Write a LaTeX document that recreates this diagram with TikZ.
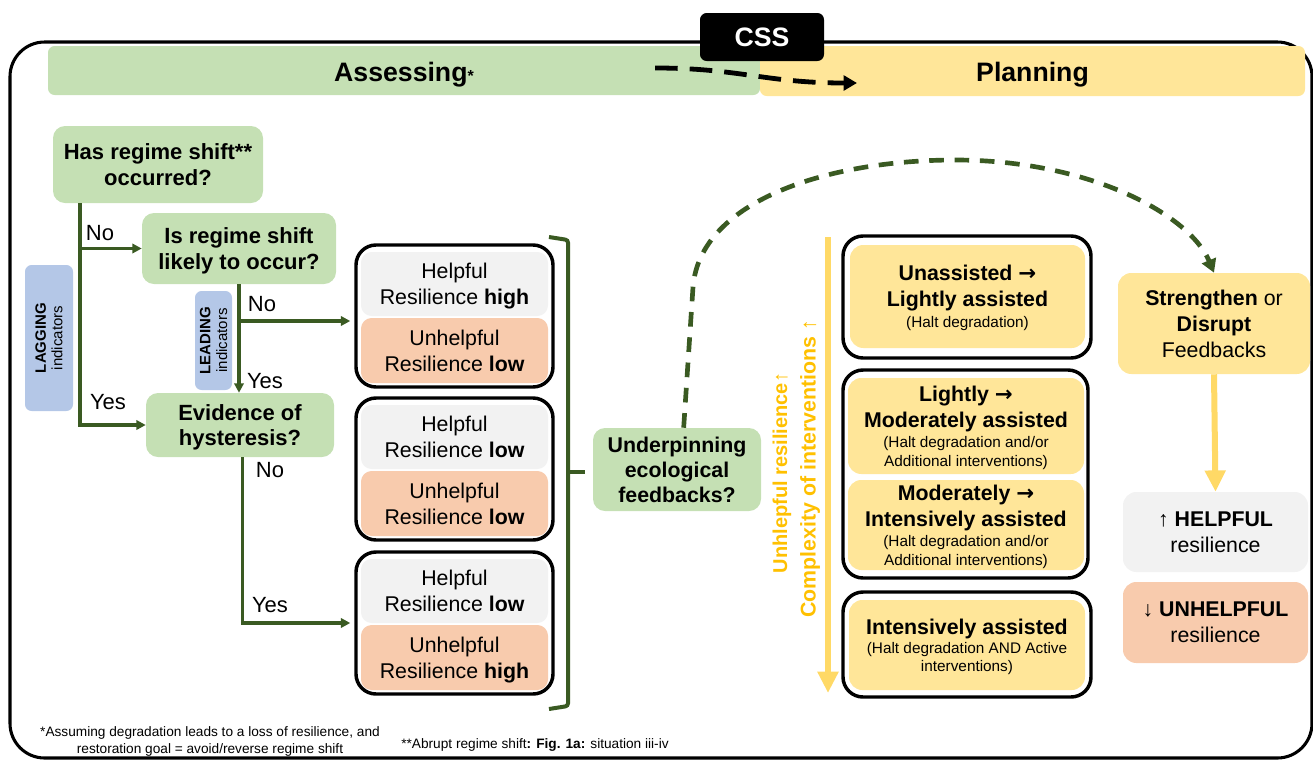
\documentclass[tikz,border=0pt]{standalone}
\usepackage{fontspec}
\setmainfont{Liberation Sans}
\newfontfamily\arrowfont{DejaVu Sans}
\usepackage{xcolor}
\usepackage{tikz}
\usetikzlibrary{arrows.meta,positioning}

\definecolor{boxgreen}{HTML}{C5E0B4}
\definecolor{boxyellow}{HTML}{FFE699}
\definecolor{boxgray}{HTML}{F2F2F2}
\definecolor{boxorange}{HTML}{F8CBAD}
\definecolor{boxblue}{HTML}{B4C7E7}
\definecolor{linegreen}{HTML}{3A5A22}
\definecolor{arrowyellow}{HTML}{FFD966}
\definecolor{textyellow}{HTML}{FFC000}

\newcommand{\fs}[2]{\fontsize{#1}{#2}\selectfont}
\newcommand{\nextstep}{{\arrowfont\bfseries →}}
\newcommand{\smalltext}[1]{{\fs{11.5}{14}#1}}

\begin{document}
\begin{tikzpicture}[x=0.75pt, y=-0.75pt,
    question/.style={fill=boxgreen, rounded corners=9pt, align=center, inner sep=0pt, text depth=0pt, font=\bfseries\fs{16.5}{19}},
    indicator/.style={fill=boxblue, rounded corners=5pt, align=center, inner sep=0pt, rotate=90, font=\fs{11.25}{12.5}},
    branchlabel/.style={inner sep=0pt, font=\fs{16.5}{19}},
    flowline/.style={draw=linegreen, line width=2.5pt},
    flowarrow/.style={flowline, -{Triangle[length=7pt,width=7pt]}},
    outerbox/.style={draw=black, fill=white, line width=2.6pt, rounded corners=15pt, inner sep=0pt},
    resbox/.style={rounded corners=8pt, align=center, inner sep=0pt, text depth=0pt, font=\fs{16}{19.5}, minimum width=140.25pt},
    planbox/.style={fill=boxyellow, rounded corners=10pt, align=center, inner sep=0pt, text depth=0pt, minimum width=177pt, font=\fs{16}{19.5}},
    yellowarrow/.style={draw=arrowyellow, line width=4.5pt, -{Triangle[length=16pt,width=15pt]}},
    sidebox/.style={rounded corners=10pt, align=center, inner sep=0pt, text depth=0pt, minimum width=138.75pt, font=\fs{16}{19.5}},
    phasebar/.style={rounded corners=5pt, inner sep=0pt, text height=16.5pt, text depth=0.5pt, font=\bfseries\fs{20}{24}},
    footnote/.style={align=center, inner sep=0pt, font=\fs{10.25}{12.75}}
]
\useasboundingbox (0,0) rectangle (1313,761);
\clip (0,0) rectangle (1313,761);

% Frame and phase bars
\draw[line width=2.3pt, rounded corners=26pt] (10,42) rectangle (1312,758);
\node[phasebar, fill=boxgreen, minimum width=534pt, minimum height=36.75pt] (assess) at (404,70.5) {Assessing{\fs{12}{12}*}};
\node[phasebar, fill=boxyellow, minimum width=408.75pt, minimum height=37.5pt] (plan) at (1032.5,71) {Planning};
\node[fill=black, text=white, rounded corners=5pt, minimum width=93pt, minimum height=36pt, inner sep=0pt, font=\bfseries\fs{20}{24}] (css) at (762,37) {CSS};
\coordinate (cssfrom) at (655,68);
\coordinate (cssto) at (857,83);
\draw[line width=3.6pt, dash pattern=on 17pt off 9pt, -{Triangle[length=10pt,width=11pt]}] (cssfrom) .. controls (740,68) and (765,83) .. (cssto);

% Assessing questions
\node[question, minimum width=157.5pt, minimum height=57.75pt] (Q1) at (158,164.5) {Has regime shift**\\occurred?};
\node[question, minimum width=145.5pt, minimum height=53.25pt] (Q2) at (239,248.5) {Is regime shift\\likely to occur?};
\node[question, minimum width=141pt, minimum height=48pt] (Q3) at (240,425) {Evidence of\\hysteresis?};
\node[indicator, minimum width=109.5pt, minimum height=36pt] (lag) at (49,338) {\textbf{LAGGING}\\indicators};
\node[indicator, minimum width=74.25pt, minimum height=27.75pt] (lead) at (213.5,340.5) {\textbf{LEADING}\\indicators};

% Decision lines
\coordinate (lagx) at (80,0);
\draw[flowarrow] (Q1.south -| lagx) |- (Q3.west);
\draw[flowarrow] (lagx |- Q2.west) -- (Q2.west);
\node[branchlabel] (no1) at (100,233) {No};
\node[branchlabel] (yes1) at (108,402) {Yes};

% Result boxes
\foreach \n/\top/\hval/\uval in {1/245/high/low, 2/398/low/low, 3/552/low/high} {
    \node[outerbox, minimum width=147.75pt, minimum height=106.5pt] (R\n) at (454.5,\top+71) {};
    \node[resbox, fill=boxgray, minimum height=48pt] (R\n-h) at (454.5,\top+39) {Helpful\\Resilience \textbf{\hval}};
    \node[resbox, fill=boxorange, minimum height=48.75pt] (R\n-u) at (454.5,\top+105.5) {Unhelpful\\Resilience \textbf{\uval}};
}

\coordinate (R1in) at ([yshift=-3.75pt]R1.west);
\draw[flowarrow] (Q2.south) -- (Q2.south |- Q3.north);
\draw[flowarrow, shorten >=3pt] (Q2.south |- R1in) -- (R1in);
\node[branchlabel] (no2) at (262,304) {No};
\node[branchlabel] (yes2) at (265,381) {Yes};
\draw[flowarrow, shorten >=3pt] ([xshift=2pt]Q3.south) |- (R3.west);
\node[branchlabel] (no3) at (270,470) {No};
\node[branchlabel] (yes3) at (270,605) {Yes};

% Bracket to feedbacks
\node[question, minimum width=126pt, minimum height=62.25pt, font=\bfseries\fs{16}{18.75}] (FB) at (677,469.5) {Underpinning\\ecological\\feedbacks?};
\draw[flowline, line width=3pt, rounded corners=2pt] (549,237) -- (568,240) -- (568,706) -- (549,709);
\coordinate (bmid) at (568,472);
\draw[flowline, line width=3pt, shorten >=6pt] (bmid) -- (bmid -| FB.west);

% Planning interventions
\coordinate (ctop) at (828,237);
\coordinate (cbot) at (828,693);
\draw[yellowarrow] (ctop) -- (cbot);
\node[rotate=90, inner sep=0pt, text=textyellow, font=\bfseries\fs{15}{18}] (unhelpres) at (782,473) {Unhlepful resilience{\mdseries↑}};
\node[rotate=90, inner sep=0pt, text=textyellow, font=\bfseries\fs{16}{19}] (complexity) at (810,469) {Complexity of interventions {\mdseries↑}};

\node[outerbox, minimum width=186pt, minimum height=91.5pt] (PA) at (967,297) {};
\node[planbox, minimum width=176.25pt, minimum height=77.25pt] (PA-in) at (967.5,296.5) {\textbf{Unassisted \nextstep}\\\textbf{Lightly assisted}\\[-3.75pt]\smalltext{(Halt degradation)}};
\node[outerbox, minimum width=183.75pt, minimum height=156pt] (PB) at (965.5,474) {};
\node[planbox, minimum height=72pt] (PB-in1) at (966,426) {\textbf{Lightly \nextstep}\\\textbf{Moderately assisted}\\[-4.5pt]\smalltext{(Halt degradation and/or}\\[-5.25pt]\smalltext{Additional interventions)}};
\node[planbox, minimum height=67.5pt] (PB-in2) at (966,525) {\textbf{Moderately \nextstep}\\\textbf{Intensively assisted}\\[-4.5pt]\smalltext{(Halt degradation and/or}\\[-5.25pt]\smalltext{Additional interventions)}};
\node[outerbox, minimum width=186pt, minimum height=78.75pt] (PC) at (967,644.5) {};
\node[planbox, minimum height=67.5pt] (PC-in) at (967,645) {\textbf{Intensively assisted}\\[-5.25pt]\smalltext{(Halt degradation AND Active}\\[-6pt]\smalltext{interventions)}};

% Feedback outcome
\node[sidebox, fill=boxyellow, minimum width=144pt, minimum height=75.75pt] (S) at (1214,323.5) {\textbf{Strengthen} or\\\textbf{Disrupt}\\Feedbacks};
\node[sidebox, fill=boxgray, minimum height=60pt] (H) at (1215.5,532) {↑ \textbf{HELPFUL}\\resilience};
\node[sidebox, fill=boxorange, minimum height=60.75pt] (U) at (1215.5,622.5) {↓ \textbf{UNHELPFUL}\\resilience};
\draw[yellowarrow] (S.south) -- (H.north);
\draw[draw=linegreen, line width=3.5pt, dash pattern=on 11pt off 8pt, -{Triangle[length=10pt,width=11pt]}] ([xshift=5pt]FB.north) -- (693,287) .. controls (700,200) and (830,160) .. (955,160) .. controls (1090,160) and (1190,215) .. (S.north);

% Footnotes
\node[footnote] (fn1) at (210,741) {*Assuming degradation leads to a loss of resilience, and\\restoration goal = avoid/reverse regime shift};
\node[footnote] (fn2) at (535,745) {**Abrupt regime shift\textbf{: Fig. 1a:} situation iii-iv};
\end{tikzpicture}
\end{document}
